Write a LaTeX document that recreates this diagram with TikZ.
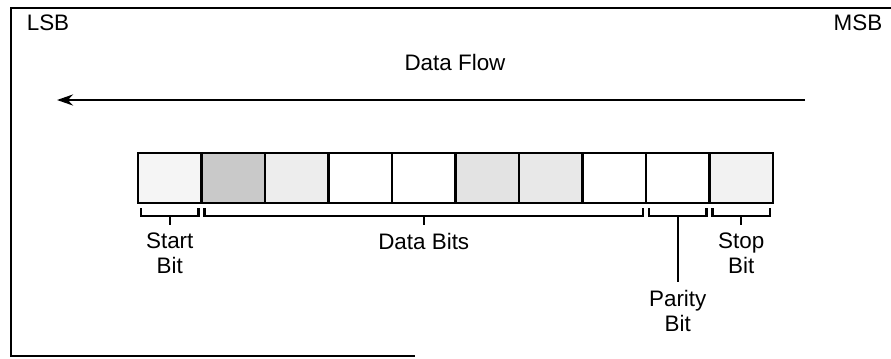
\documentclass[tikz,border=0pt]{standalone}
\usepackage{fontspec}
\setmainfont{Liberation Sans}
\usetikzlibrary{arrows.meta,calc}
\tikzset{
  >={Stealth[length=16bp,width=11bp]},
  marco/.style={line width=1.8bp},
  flecha/.style={->, line width=2.8bp},
  celda/.style={draw, line width=2.6bp, minimum width=63.5bp, minimum height=50bp, inner sep=0pt, outer sep=0pt},
  llave/.style={line width=2.2bp},
  rotulo/.style={align=center, inner sep=1bp, outer sep=7bp, font=\fontsize{22.5}{25}\selectfont},
}

\begin{document}
\begin{tikzpicture}[x=1bp, y=-1bp]
  \useasboundingbox (0,0) rectangle (891,358);
  \draw[marco] (891,8) -- (11,8) -- (11,356) -- (415,356);
  \node[rotulo] (lsb) at (48,23) {LSB};
  \node[rotulo] (msb) at (858,23) {MSB};
  \node[rotulo] (flujo) at (455,62) {Data Flow};
  \coordinate (flujoder) at (805,100);
  \coordinate (flujoizq) at (57,100);
  \draw[flecha] (flujoder) -- (flujoizq);
  \foreach \i/\tono in {1/8,2/42,3/14,4/0,5/0,6/22,7/18,8/0,9/0,10/10}
    \node[celda, fill=gray!\tono] (c\i) at ({138+63.5*(\i-0.5)},178) {};
  \draw[llave] ($(c1.south west)+(3,5)$) -- ++(0,8) -| ($(c1.south east)+(-3,5)$);
  \draw[llave] ($(c2.south west)+(3,5)$) -- ++(0,8) -| ($(c8.south east)+(-3,5)$);
  \draw[llave] ($(c9.south west)+(3,5)$) -- ++(0,8) -| ($(c9.south east)+(-3,5)$);
  \draw[llave] ($(c10.south west)+(3,5)$) -- ++(0,8) -| ($(c10.south east)+(-3,5)$);
  \coordinate (mdatos) at ($(c2.south west)!0.5!(c8.south east)$);
  \node[rotulo, anchor=north] (inicio) at ($(c1.south)+(0,22)$) {Start\\Bit};
  \node[rotulo, anchor=north] (datos) at ($(mdatos)+(0,22)$) {Data Bits};
  \node[rotulo, anchor=north] (paridad) at ($(c9.south)+(0,79)$) {Parity\\Bit};
  \node[rotulo, anchor=north] (parada) at ($(c10.south)+(0,22)$) {Stop\\Bit};
  \draw[llave] ($(c1.south)+(0,13)$) -- (inicio);
  \draw[llave] ($(mdatos)+(0,13)$) -- (datos);
  \draw[llave] ($(c9.south)+(0,13)$) -- (paridad);
  \draw[llave] ($(c10.south)+(0,13)$) -- (parada);
\end{tikzpicture}
\end{document}
